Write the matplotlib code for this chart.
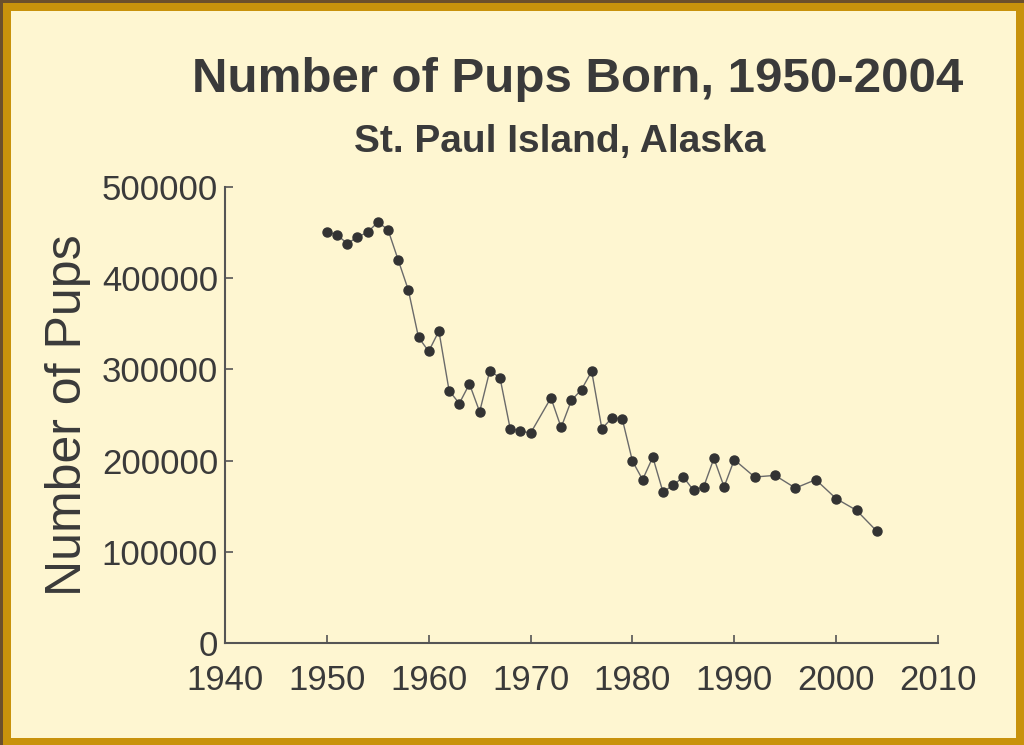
import matplotlib
matplotlib.use("Agg")
import matplotlib.pyplot as plt
from matplotlib.patches import Rectangle

years = [1950, 1951, 1952, 1953, 1954, 1955, 1956, 1957, 1958, 1959,
         1960, 1961, 1962, 1963, 1964, 1965, 1966, 1967, 1968, 1969,
         1970, 1972, 1973, 1974, 1975, 1976, 1977, 1978, 1979,
         1980, 1981, 1982, 1983, 1984, 1985, 1986, 1987, 1988, 1989,
         1990, 1992, 1994, 1996, 1998, 2000, 2002, 2004]
pups = [451100, 447500, 438000, 445000, 450400, 461400, 453300, 420100, 387000, 335100,
        319800, 342100, 276800, 262600, 284100, 253500, 298700, 290700, 234900, 232700,
        230100, 268800, 236300, 265900, 277900, 297900, 234900, 246900, 245800,
        199500, 179100, 203800, 165500, 173200, 182000, 167400, 171400, 202400, 171200,
        201000, 182000, 183800, 169900, 179100, 158300, 145500, 122500]
x_ticks = [1940, 1950, 1960, 1970, 1980, 1990, 2000, 2010]
y_ticks = [0, 100000, 200000, 300000, 400000, 500000]

title = "Number of Pups Born, 1950-2004"
subtitle = "St. Paul Island, Alaska"
ylabel = "Number of Pups"

W, H = 1024, 745
cream = "#FEF6D1"
gold = "#C8920C"
brown = "#6B4F2C"
txt = "#3A3A3A"

plt.rcParams['font.family'] = ['Liberation Sans', 'DejaVu Sans']

fig = plt.figure(figsize=(W / 100, H / 100), dpi=100)
fig.patch.set_facecolor(gold)
# frame
fig.patches.append(Rectangle((0, 1 - 3 / H), 1, 3 / H, transform=fig.transFigure,
                             facecolor=brown, edgecolor='none', zorder=0))
fig.patches.append(Rectangle((0, 0), 3 / W, 1, transform=fig.transFigure,
                             facecolor=brown, edgecolor='none', zorder=0))
fig.patches.append(Rectangle((11 / W, 7 / H), (1016 - 11) / W, (H - 11 - 7) / H,
                             transform=fig.transFigure, facecolor=cream,
                             edgecolor='none', zorder=0))

ax = fig.add_axes([225 / W, (H - 643) / H, 713 / W, 456 / H])
ax.set_zorder(5)
ax.set_facecolor('none')
ax.plot(years, pups, color='#6a6a6a', linewidth=1.0, marker='o',
        markersize=6.5, markerfacecolor='#333333', markeredgecolor='#333333', zorder=3)
ax.set_xlim(1940, 2010)
ax.set_ylim(0, 500000)
ax.set_xticks(x_ticks)
ax.set_yticks(y_ticks)
ax.set_xticklabels([str(v) for v in x_ticks])
ax.set_yticklabels([str(v) for v in y_ticks])
for s in ['top', 'right']:
    ax.spines[s].set_visible(False)
for s in ['left', 'bottom']:
    ax.spines[s].set_color('#555555')
    ax.spines[s].set_linewidth(1.5)
ax.tick_params(axis='both', direction='in', length=6, width=1.2, color='#555555',
               labelsize=25, labelcolor=txt)
ax.tick_params(axis='x', pad=15)
ax.tick_params(axis='y', pad=5)

fig.text(578 / W, 1 - 92 / H, title, ha='center', va='baseline',
         fontsize=35.5, fontweight='bold', color=txt, zorder=6)
fig.text(560 / W, 1 - 152 / H, subtitle, ha='center', va='baseline',
         fontsize=28, fontweight='bold', color=txt, zorder=6)
fig.text(68 / W, 1 - 415 / H, ylabel, ha='center', va='center', rotation=90,
         fontsize=36, color=txt, zorder=6)

fig.savefig("out.png", dpi=100, facecolor=fig.get_facecolor())
